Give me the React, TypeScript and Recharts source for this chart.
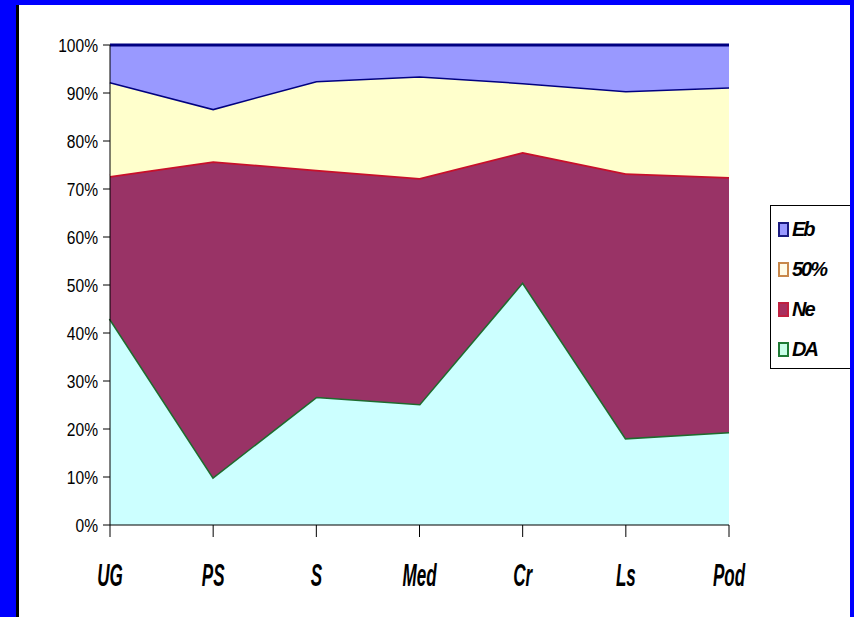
import { AreaChart, Area, XAxis, YAxis } from 'recharts';

// categories along the x axis
const categories = ['UG', 'PS', 'S', 'Med', 'Cr', 'Ls', 'Pod'];

// series values (percent share of each category)
const daValues = [43.0, 10.0, 26.7, 25.2, 50.6, 18.1, 19.4];
const neValues = [29.7, 65.8, 47.3, 47.1, 27.1, 55.2, 53.1];
const halfValues = [19.6, 10.9, 18.5, 21.2, 14.4, 17.1, 18.7];
const ebValues = [7.7, 13.3, 7.5, 6.5, 7.9, 9.6, 8.8];

// y tick positions (fractions for the expanded stack)
const yTicks = [0, 0.1, 0.2, 0.3, 0.4, 0.5, 0.6, 0.7, 0.8, 0.9, 1];

// legend labels, top to bottom
const legendItems = [
  { label: 'Eb', fill: '#9999FF', border: '#1A1A80' },
  { label: '50%', fill: '#FFFBE8', border: '#C8874A' },
  { label: 'Ne', fill: '#A8305F', border: '#C02040' },
  { label: 'DA', fill: '#C8FFE8', border: '#1E7A34' },
];

const chartData = categories.map((name, i) => ({
  name,
  DA: daValues[i],
  Ne: neValues[i],
  half: halfValues[i],
  Eb: ebValues[i],
}));

const fontFamily = '"Liberation Sans", Arial, sans-serif';

function XTick(props: any) {
  const { x, y, payload } = props;
  return (
    <g transform={`translate(${x},${y})`}>
      <text
        transform="scale(0.55,1)"
        textAnchor="middle"
        dy={47}
        fontSize={31}
        fontWeight="bold"
        fontStyle="italic"
        fontFamily={fontFamily}
        fill="#000"
      >
        {payload.value}
      </text>
    </g>
  );
}

function YTick(props: any) {
  const { x, y, payload } = props;
  return (
    <g transform={`translate(${x - 3},${y})`}>
      <text
        transform="scale(0.82,1)"
        textAnchor="end"
        dy={7}
        fontSize={19}
        fontFamily={fontFamily}
        fill="#000"
      >
        {`${Math.round(payload.value * 100)}%`}
      </text>
    </g>
  );
}

export default function App() {
  return (
    <div style={{ position: 'absolute', left: 0, top: 0, width: 854, height: 617, background: '#0000FF' }}>
      <div
        style={{
          position: 'absolute',
          left: 16,
          top: 5,
          width: 834,
          height: 612,
          background: '#fff',
          borderLeft: '3px solid #000',
          boxSizing: 'border-box',
        }}
      />
      <div style={{ position: 'absolute', left: 0, top: 0 }}>
        <AreaChart
          width={854}
          height={617}
          data={chartData}
          stackOffset="expand"
          margin={{ top: 45, right: 125, left: 50, bottom: 42 }}
        >
          <XAxis
            dataKey="name"
            height={50}
            stroke="#000"
            tickSize={12}
            tick={<XTick />}
            interval={0}
          />
          <YAxis
            width={60}
            domain={[0, 1]}
            ticks={yTicks}
            stroke="#000"
            tickSize={7}
            tick={<YTick />}
            interval={0}
          />
          <Area
            type="linear"
            dataKey="DA"
            stackId="1"
            fill="#CCFFFF"
            fillOpacity={1}
            stroke="#1E6B2E"
            strokeWidth={3}
            isAnimationActive={false}
          />
          <Area
            type="linear"
            dataKey="Ne"
            stackId="1"
            fill="#993366"
            fillOpacity={1}
            stroke="#C8102A"
            strokeWidth={3.5}
            isAnimationActive={false}
          />
          <Area
            type="linear"
            dataKey="half"
            stackId="1"
            fill="#FFFFCC"
            fillOpacity={1}
            stroke="#000080"
            strokeWidth={3}
            isAnimationActive={false}
          />
          <Area
            type="linear"
            dataKey="Eb"
            stackId="1"
            fill="#9999FF"
            fillOpacity={1}
            stroke="#000080"
            strokeWidth={3}
            isAnimationActive={false}
          />
        </AreaChart>
      </div>
      <div
        style={{
          position: 'absolute',
          left: 770,
          top: 205,
          width: 80,
          height: 164,
          border: '1px solid #000',
          borderRight: 'none',
          background: '#fff',
          boxSizing: 'border-box',
        }}
      >
        {legendItems.map((item, i) => (
          <div
            key={item.label}
            style={{
              position: 'absolute',
              left: 7,
              top: 12 + i * 40,
              height: 22,
              display: 'flex',
              alignItems: 'center',
            }}
          >
            <div
              style={{
                width: 11,
                height: 15,
                background: item.fill,
                border: `2px solid ${item.border}`,
                boxSizing: 'border-box',
                marginRight: 3,
              }}
            />
            <span
              style={{
                fontFamily,
                fontSize: 20,
                fontWeight: 'bold',
                fontStyle: 'italic',
                letterSpacing: -2,
                color: '#000',
              }}
            >
              {item.label}
            </span>
          </div>
        ))}
      </div>
    </div>
  );
}
